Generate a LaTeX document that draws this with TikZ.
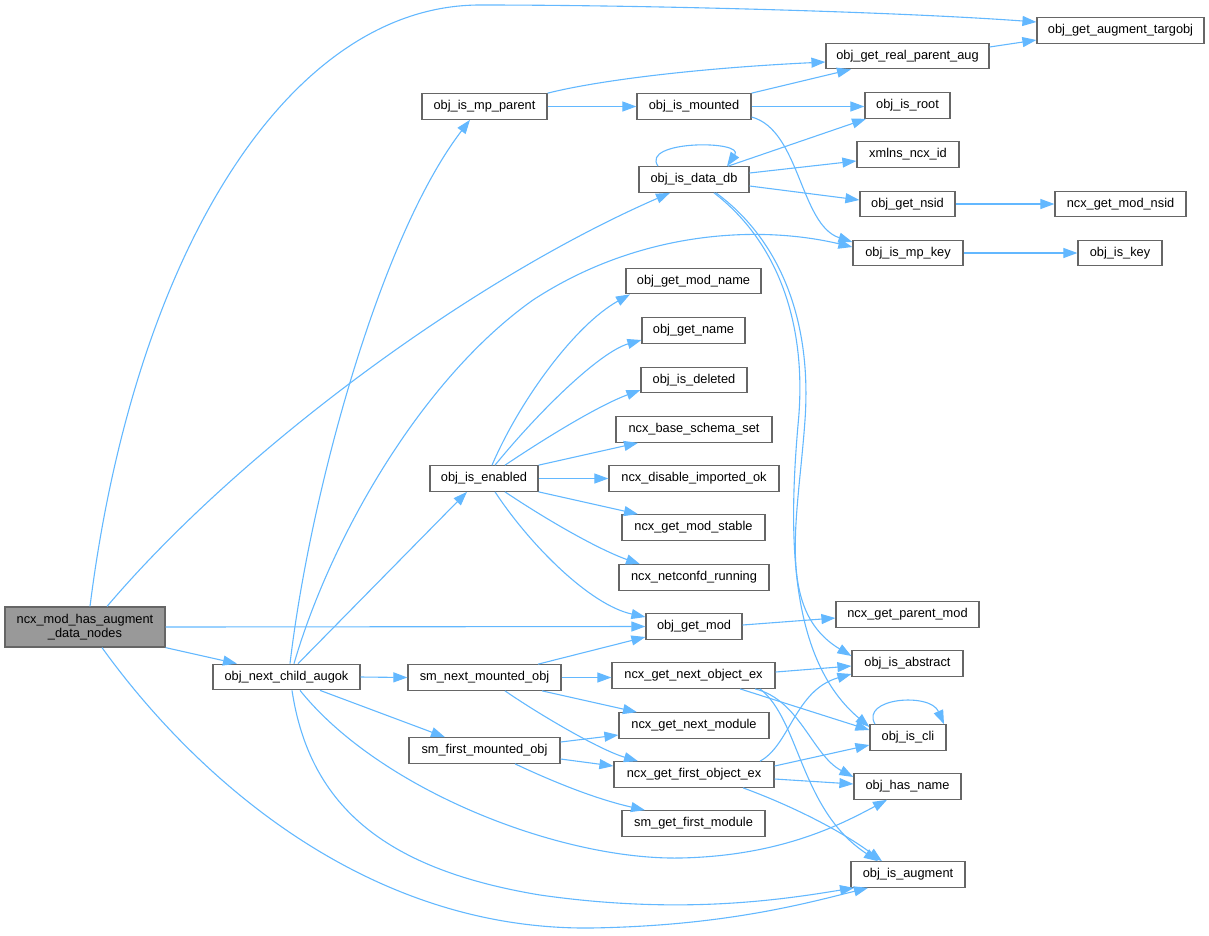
\documentclass[tikz,border=0pt]{standalone}
\usepackage{fontspec}
\setmainfont{Liberation Sans}
\usetikzlibrary{arrows.meta}
\definecolor{edgeblue}{HTML}{63B8FF}
\definecolor{boxgray}{HTML}{666666}
\definecolor{rootfill}{HTML}{999999}
\newcommand\nd[5]{\node[box,minimum width=#4pt] (#1) at (#2,#3) {#5};}
\begin{document}
\begin{tikzpicture}[x=1pt,y=-1pt,
  box/.style={draw=boxgray,line width=1.2pt,fill=white,inner sep=0pt,minimum height=25.5pt,
    font=\fontsize{12.8}{14}\selectfont,text=black},
  edge/.style={draw=edgeblue,line width=1.1pt,-{Triangle[length=14pt,width=10pt]}}]
\useasboundingbox (0,0) rectangle (1209,935);
\node[box,minimum width=160pt,minimum height=40pt,fill=rootfill,align=center] (root0) at (85,627)
  {ncx\_mod\_has\_augment\\\_data\_nodes};
\nd{augok}{286.5}{677}{147}{obj\_next\_child\_augok}
\nd{mpparent}{484.5}{106.5}{125}{obj\_is\_mp\_parent}
\nd{mounted}{694}{106.5}{114}{obj\_is\_mounted}
\nd{datadb}{694}{179.5}{110}{obj\_is\_data\_db}
\nd{targobj}{1120.5}{30.5}{167}{obj\_get\_augment\_targobj}
\nd{realparent}{907.5}{56}{163}{obj\_get\_real\_parent\_aug}
\nd{isroot}{907.5}{105.5}{85}{obj\_is\_root}
\nd{xmlns}{908}{154.5}{102}{xmlns\_ncx\_id}
\nd{nsid}{907.5}{204}{95}{obj\_get\_nsid}
\nd{modnsid}{1120.5}{204}{131}{ncx\_get\_mod\_nsid}
\nd{mpkey}{908}{253}{110}{obj\_is\_mp\_key}
\nd{iskey}{1120}{253}{84}{obj\_is\_key}
\nd{modname}{693.5}{281}{135}{obj\_get\_mod\_name}
\nd{getname}{693.5}{330.5}{103}{obj\_get\_name}
\nd{deleted}{694}{380}{106}{obj\_is\_deleted}
\nd{schema}{694}{429.5}{156}{ncx\_base\_schema\_set}
\nd{enabled}{484}{478.5}{108}{obj\_is\_enabled}
\nd{disable}{694}{478.5}{170}{ncx\_disable\_imported\_ok}
\nd{stable}{693.5}{527.5}{143}{ncx\_get\_mod\_stable}
\nd{running}{694}{577.5}{150}{ncx\_netconfd\_running}
\nd{getmod}{694}{626.5}{96}{obj\_get\_mod}
\nd{smnext}{484.5}{677.5}{153}{sm\_next\_mounted\_obj}
\nd{nextobj}{693.5}{675.5}{163}{ncx\_get\_next\_object\_ex}
\nd{nextmodule}{694}{725.5}{150}{ncx\_get\_next\_module}
\nd{smfirst}{484.5}{750.5}{151}{sm\_first\_mounted\_obj}
\nd{firstobj}{694}{774.5}{160}{ncx\_get\_first\_object\_ex}
\nd{smgetfirst}{693.5}{823.5}{143}{sm\_get\_first\_module}
\nd{parentmod}{907.5}{614.5}{143}{ncx\_get\_parent\_mod}
\nd{abstract}{907.5}{663.5}{111}{obj\_is\_abstract}
\nd{cli}{908}{737.5}{76}{obj\_is\_cli}
\nd{hasname}{907.5}{786.5}{107}{obj\_has\_name}
\nd{augment}{908}{874.5}{114}{obj\_is\_augment}
% root edges
\draw[edge] (root0.north -| 90,0) .. controls (135,250) and (290,5) .. (480,5) .. controls (650,5) and (900,12) .. (targobj.west |- 0,22);
\draw[edge] (root0.north -| 107,0) .. controls (240,450) and (470,280) .. (datadb.south -| 670,0);
\draw[edge] (root0.east) -- (getmod.west);
\draw[edge] (root0.south east) -- (augok.north -| 237,0);
\draw[edge] (root0.south -| 102,0) .. controls (190,770) and (360,930) .. (590,928) .. controls (720,926) and (800,905) .. (augment.south -| 868,0);
% augok edges
\draw[edge] (augok.north -| 290,0) .. controls (310,494) and (380,237) .. (mpparent.south -| 470,0);
\draw[edge] (augok.north -| 294,0) .. controls (330,540) and (420,380) .. (533,300) .. controls (640,230) and (760,225) .. (mpkey.west |- 0,247);
\draw[edge] (augok.north -| 298,0) -- (enabled.south -| 467,0);
\draw[edge] (augok.east) -- (smnext.west);
\draw[edge] (augok.south -| 320,0) -- (smfirst.north -| 445,0);
\draw[edge] (augok.south -| 300,0) .. controls (380,790) and (560,860) .. (680,858) .. controls (780,856) and (840,825) .. (hasname.south -| 887,0);
\draw[edge] (augok.south -| 292,0) .. controls (310,810) and (390,870) .. (540,895) .. controls (680,915) and (780,900) .. (augment.south -| 854,0);
% mp parent / mounted
\draw[edge] (mpparent.north east) .. controls (600,80) and (700,68) .. (realparent.west |- 0,62);
\draw[edge] (mpparent.east) -- (mounted.west);
\draw[edge] (mounted.north east) -- (realparent.south -| 851,0);
\draw[edge] (mounted.east) -- (isroot.west |- mounted.east);
\draw[edge] (mounted.east |- 0,117) .. controls (800,130) and (800,225) .. (mpkey.west |- 0,242);
\draw[edge] (realparent.east |- 0,47) -- (targobj.west |- 0,40);
% data db
\draw[edge] (datadb.north -| 658,0) .. controls (640,140) and (745,140) .. (datadb.north -| 727,0);
\draw[edge] (datadb.north -| 728,0) -- (isroot.south -| 866,0);
\draw[edge] (datadb.east |- 0,173) -- (xmlns.west |- 0,161);
\draw[edge] (datadb.east |- 0,186) -- (nsid.west |- 0,200);
\draw[edge] (datadb.south -| 716,0) .. controls (780,240) and (812,320) .. (805,420) .. controls (798,520) and (775,610) .. (abstract.west |- 0,656);
\draw[edge] (datadb.south -| 714,0) .. controls (778,242) and (808,325) .. (798,425) .. controls (788,540) and (790,660) .. (cli.west |- 0,727);
\draw[edge] (nsid.east) -- (modnsid.west);
\draw[edge] (mpkey.east) -- (iskey.west);
% enabled
\draw[edge] (enabled.north -| 492,0) .. controls (520,400) and (575,325) .. (modname.south -| 630,0);
\draw[edge] (enabled.north -| 495,0) .. controls (540,410) and (600,352) .. (getname.west |- 0,340);
\draw[edge] (enabled.north -| 505,0) .. controls (550,435) and (600,405) .. (deleted.west |- 0,390);
\draw[edge] (enabled.north east) -- (schema.south -| 638,0);
\draw[edge] (enabled.east) -- (disable.west);
\draw[edge] (enabled.south east) -- (stable.north -| 638,0);
\draw[edge] (enabled.south -| 505,0) .. controls (550,522) and (600,550) .. (running.north -| 640,0);
\draw[edge] (enabled.south -| 495,0) .. controls (530,545) and (590,605) .. (getmod.west |- 0,617);
\draw[edge] (getmod.east |- 0,625) -- (parentmod.west |- 0,618);
% sm next / first
\draw[edge] (smnext.north -| 538,0) -- (getmod.west |- 0,637);
\draw[edge] (smnext.east) -- (nextobj.west |- smnext.east);
\draw[edge] (smnext.south -| 542,0) -- (nextmodule.north -| 637,0);
\draw[edge] (smnext.south -| 505,0) .. controls (540,715) and (600,750) .. (firstobj.north -| 638,0);
\draw[edge] (smfirst.east |- 0,742) -- (nextmodule.west |- 0,735);
\draw[edge] (smfirst.east |- 0,759) -- (firstobj.west |- 0,766);
\draw[edge] (smfirst.south -| 515,0) .. controls (560,785) and (600,800) .. (smgetfirst.north -| 645,0);
% next object / first object
\draw[edge] (nextobj.east |- 0,672) -- (abstract.west |- 0,666);
\draw[edge] (nextobj.south -| 740,0) -- (cli.west |- 0,730);
\draw[edge] (nextobj.south -| 755,0) .. controls (800,700) and (812,755) .. (hasname.west |- 0,777);
\draw[edge] (nextobj.south -| 760,0) .. controls (800,720) and (800,810) .. (augment.north -| 878,0);
\draw[edge] (firstobj.north -| 760,0) .. controls (790,745) and (795,690) .. (abstract.west |- 0,674);
\draw[edge] (firstobj.east |- 0,766) -- (cli.west |- 0,745);
\draw[edge] (firstobj.east |- 0,779) -- (hasname.west |- 0,784);
\draw[edge] (firstobj.south -| 743,0) .. controls (790,805) and (840,830) .. (augment.north -| 882,0);
\draw[edge] (cli.north -| 875,0) .. controls (860,698) and (930,692) .. (cli.north -| 944,0);
\end{tikzpicture}
\end{document}
